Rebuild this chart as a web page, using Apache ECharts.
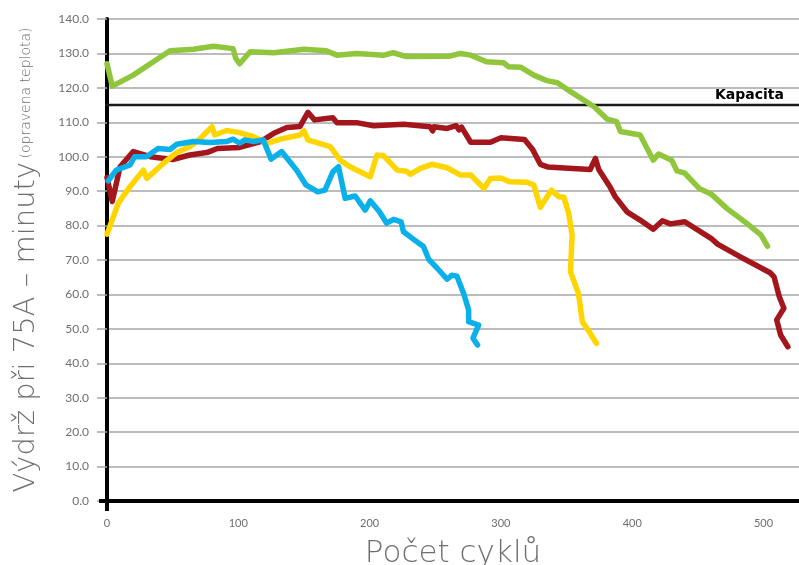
<!DOCTYPE html>
<html>
<head>
<meta charset="utf-8">
<script src="https://cdn.jsdelivr.net/npm/echarts@6/dist/echarts.min.js"></script>
<style>html,body{margin:0;padding:0;background:#fff}#c{width:799px;height:565px}</style>
</head>
<body>
<div id="c"></div>
<script>
const xTicks = [0, 100, 200, 300, 400, 500];
const capacity = 115;
const capacityLabel = 'Kapacita';
const xTitle = 'Počet cyklů';
const yTitleMain = 'Výdrž při 75A – minuty';
const yTitleSub = '(opravena teplota)';

const greenCycles = [0,4,20,33,48,66,81,96,98,101,109,127,150,167,175,190,211,218,228,261,269,277,289,302,306,315,325,335,343,353,371,381,388,391,406,416,420,430,434,440,451,460,472,487,498,503];
const greenMinutes = [127,120.5,123.7,127,130.8,131.2,132.1,131.4,128.6,127,130.5,130.2,131.2,130.8,129.5,130,129.5,130.2,129.1,129.2,130,129.5,127.6,127.3,126.1,126,123.7,122.1,121.5,118.9,114.5,110.9,110.2,107.3,106.3,99,100.8,99,95.9,95.2,90.8,89.2,85,80.7,77.3,74];

const redCycles = [0,4,10,20,33,50,63,76,84,101,117,127,137,147,153,158,172,175,190,203,226,246,248,249,259,266,268,270,277,292,300,318,324,330,336,345,368,372,374.5,383,387,396,406,416,423,429,440,460,465,482,505,508,512,515.5,510,513,518.5];
const redMinutes = [94,87,97.1,101.5,100,99.2,100.5,101.2,102.4,102.7,104.4,106.8,108.5,108.8,112.9,110.7,111.3,109.9,109.9,109,109.4,108.7,107.5,108.7,108.2,109,107.8,108.6,104.2,104.2,105.5,105,102.2,97.8,97,96.8,96.3,99.5,96.3,91.3,88.4,84,81.6,78.9,81.4,80.5,81.1,76.3,74.6,71,66.3,65.1,59.3,56,52.6,48.2,44.8];

const yellowCycles = [0,8.6,17.5,27.7,30.3,43,53,63,71,80,82,91,101,111.5,122,132,147,150,153,170,177.6,185,200.5,205.6,210.6,221,228,231,238.6,247.5,259,269,277,287,292,300,307,320,325,330,338.5,344,348,351.6,352.4,354.2,353,359,362,368,372.7];
const yellowMinutes = [77.5,86.5,91.3,96.1,93.7,98.1,101.2,102.9,105.3,108.7,106.3,107.6,107,105.8,103.9,105.1,106.3,107.5,104.9,102.9,99,97.1,94.2,100.5,100.3,96.1,95.8,94.9,96.6,97.8,96.8,94.7,94.7,90.8,93.7,93.8,92.7,92.6,91.8,85.3,90.3,88.4,88.2,83.6,81.6,77.3,66.6,60.3,52.1,48.7,45.8];

const blueCycles = [1,7,17.5,21,30,39,48,53,66,78.5,91,96,101,105,111.5,119,125,133,144.6,151.5,160.5,166,172,176.3,181.4,189,196.6,200.5,207.5,213,218.2,224,225.8,233.5,241,245,251.5,259,262.7,266.5,271.6,275.4,275.4,283,278.7,282.2];
const blueMinutes = [93,96.1,97.6,100,100,102.4,102.1,103.6,104.4,104.1,104.4,105.1,103.9,104.9,104.4,104.9,99.3,101.5,96,91.8,89.8,90.3,95.6,97.1,87.9,88.6,84.5,87.2,84,80.7,81.8,81.1,78.2,76,73.9,70.2,67.6,64.4,65.6,65.3,60.3,55.5,52.1,51.1,47.3,45.3];

const zip = (xs, ys) => xs.map((x, i) => [x, ys[i]]);
const FONT = 'Lato, "Open Sans", sans-serif';
const WIDE = '"DejaVu Sans", Lato, sans-serif';
const GREY = '#6f6f6f';

function lineSeries(name, xs, ys, color) {
  return {
    name, type: 'line', data: zip(xs, ys), symbol: 'none',
    lineStyle: { color, width: 5.5, join: 'round', cap: 'round' },
    z: 3
  };
}

const chart = echarts.init(document.getElementById('c'), null, { renderer: 'canvas' });
chart.setOption({
  animation: false,
  backgroundColor: '#fff',
  grid: { left: 107, right: 0, top: 19, bottom: 64, containLabel: false, outerBoundsMode: 'none' },
  xAxis: {
    type: 'value', min: 0, max: 527, interval: 100,
    name: xTitle, nameLocation: 'middle', nameGap: 37,
    nameTextStyle: { fontFamily: WIDE, fontSize: 31, color: GREY, fontWeight: 200 },
    axisLine: { show: true, onZero: false, lineStyle: { color: '#000', width: 4 } },
    axisTick: { show: true, customValues: [0], length: 10, lineStyle: { color: '#000', width: 4 } },
    axisLabel: { customValues: xTicks, fontFamily: FONT, fontSize: 11, color: GREY, margin: 17 },
    splitLine: { show: false }
  },
  yAxis: [{
    type: 'value', min: 0, max: 140, interval: 10,
    name: '{a|' + yTitleMain + '} {b|' + yTitleSub + '}',
    nameLocation: 'middle', nameGap: 66, nameRotate: 90,
    nameTextStyle: {
      rich: {
        a: { fontFamily: WIDE, fontSize: 29, color: GREY, fontWeight: 200 },
        b: { fontFamily: WIDE, fontSize: 14, color: GREY, fontWeight: 200 }
      }
    },
    axisLine: { show: true, onZero: false, lineStyle: { color: '#000', width: 4 } },
    axisTick: { show: true, length: 10, lineStyle: { color: '#a6a6a6', width: 1.5 } },
    axisLabel: { fontFamily: FONT, fontSize: 12, color: GREY, margin: 18, formatter: v => v.toFixed(1) },
    splitLine: { show: true, lineStyle: { color: '#a6a6a6', width: 1.5 } }
  }, {
    type: 'value', min: 0, max: 140, interval: 10, position: 'left',
    axisLine: { show: false },
    axisTick: { show: true, customValues: [0], length: 8, lineStyle: { color: '#000', width: 4 } },
    axisLabel: { show: false },
    splitLine: { show: false }
  }],
  series: [
    {
      name: capacityLabel, type: 'line', data: [[-37, capacity], [527, capacity]],
      symbol: 'none', clip: false, silent: true, z: 2,
      lineStyle: { color: '#1a1a1a', width: 2.5 },
      markLine: {
        symbol: 'none', silent: true,
        lineStyle: { color: 'rgba(0,0,0,0)', width: 0 },
        label: {
          show: true, position: 'insideEndTop', formatter: capacityLabel,
          fontFamily: WIDE, fontSize: 14, fontWeight: 'bold', color: '#000', distance: [15, 3]
        },
        data: [{ yAxis: capacity }]
      }
    },
    lineSeries('green', greenCycles, greenMinutes, '#8fc63c'),
    lineSeries('red', redCycles, redMinutes, '#a3171c'),
    lineSeries('yellow', yellowCycles, yellowMinutes, '#ffd500'),
    lineSeries('blue', blueCycles, blueMinutes, '#0ab0ea')
  ]
});
</script>
</body>
</html>
